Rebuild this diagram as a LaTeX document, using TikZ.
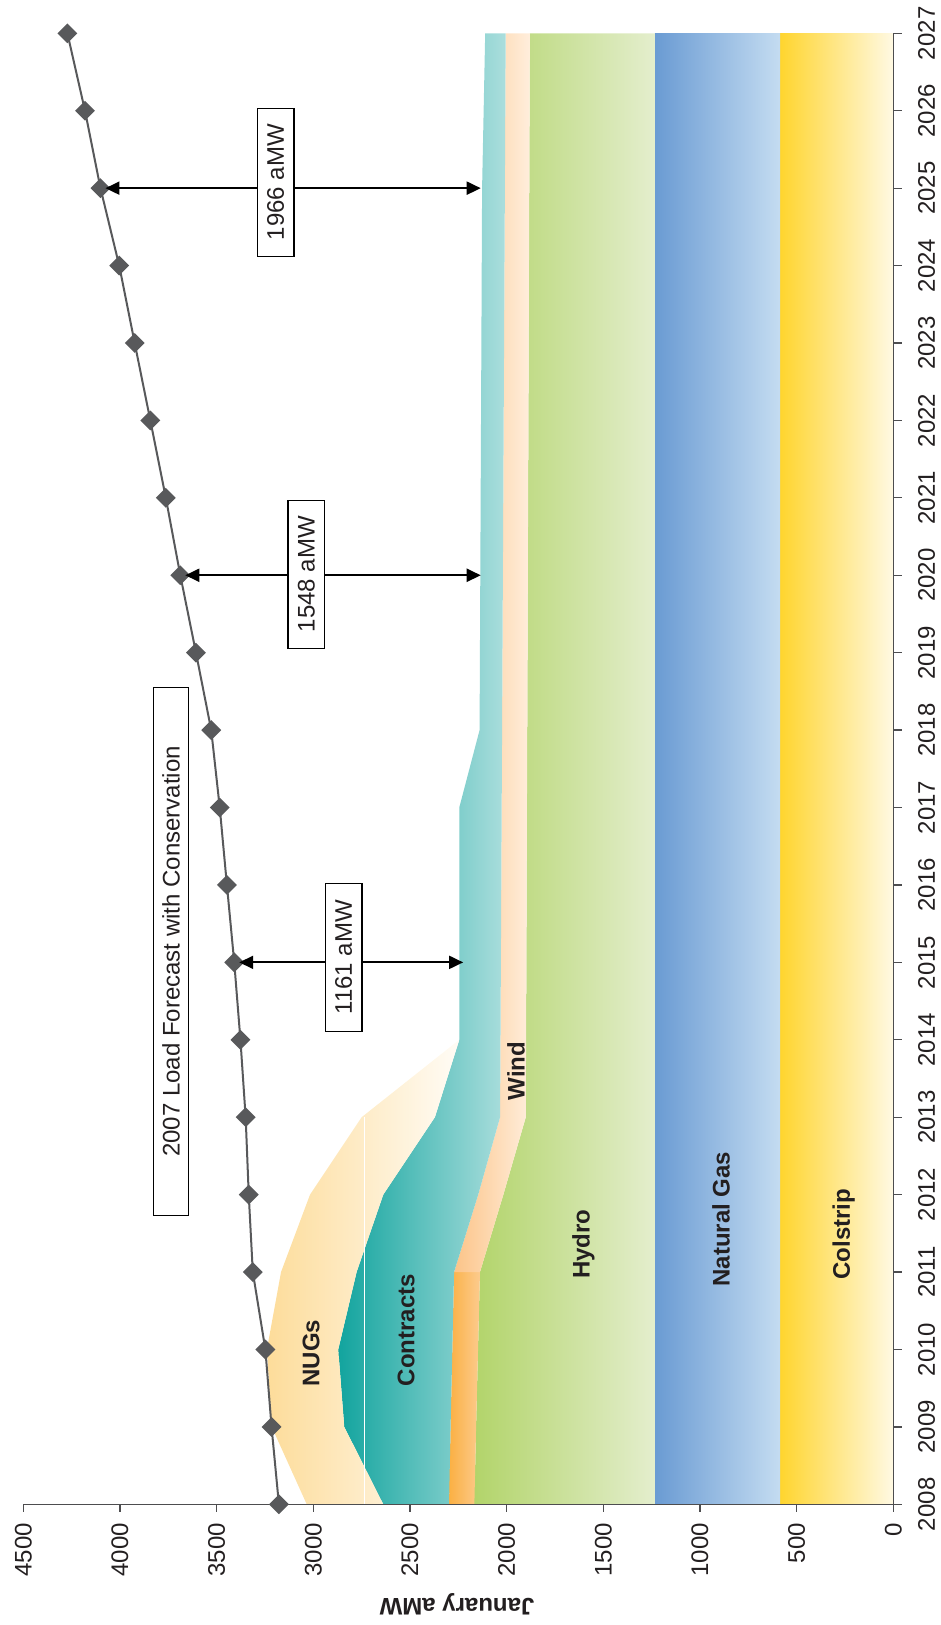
\documentclass[tikz,border=0pt]{standalone}
\usepackage{fontspec}
\setmainfont{Liberation Sans}
\usetikzlibrary{shapes.geometric,arrows.meta}

% layer shadings: saturated on the high-aMW side, pale on the low side
\definecolor{colstripL}{HTML}{FFD52E}
\definecolor{colstripR}{HTML}{FFF9E3}
\definecolor{gasL}{HTML}{6A9BD3}
\definecolor{gasR}{HTML}{C4DCF1}
\definecolor{hydroL}{HTML}{B2D46A}
\definecolor{hydroR}{HTML}{E4EECD}
\definecolor{windLoL}{HTML}{FBB043}
\definecolor{windLoR}{HTML}{FCCB8E}
\definecolor{windUpL}{HTML}{FCC488}
\definecolor{windUpR}{HTML}{FFEEDC}
\definecolor{contrL}{HTML}{12A49E}
\definecolor{contrR}{HTML}{ABDEDD}
\definecolor{nugL}{HTML}{FDDC9A}
\definecolor{nugR}{HTML}{FFFCF6}
\definecolor{loadgray}{HTML}{58595B}
\definecolor{axisgray}{HTML}{4D4D4F}
\definecolor{inkdark}{HTML}{231F20}

\begin{document}
\begin{tikzpicture}[x=1pt,y=-1pt,
  every node/.style={font=\fontsize{24pt}{28pt}\selectfont, inner sep=0pt, text=inkdark},
  layerlabel/.style={font=\fontsize{24pt}{28pt}\selectfont\bfseries, rotate=90},
  axisline/.style={draw=axisgray, line width=1.3pt},
  loadpt/.style={diamond, fill=loadgray, minimum width=20pt, minimum height=20pt, inner sep=0pt},
  loadline/.style={draw=loadgray, line width=2pt},
  gaparrow/.style={draw=black, line width=2pt,
    {Triangle[length=14pt,width=13pt]}-{Triangle[length=14pt,width=13pt]}, shorten <=5pt},
  gapbox/.style={draw=black, line width=1.3pt, fill=white, rotate=90,
    minimum width=148pt, minimum height=36.5pt},
  titlebox/.style={draw=black, line width=1.3pt, fill=white, rotate=90,
    minimum width=528pt, minimum height=35pt}]

\useasboundingbox (0,0) rectangle (941,1625);

% chart frame: first coordinate = years after 2008, second = aMW
\begin{scope}[shift={(893.3pt,-1504.3pt)}, x={(0pt,77.42pt)}, y={(-0.193333pt,0pt)}]

  % Colstrip
  \shade[left color=colstripL, right color=colstripR]
    (0,0) -- (19,0) -- (19,586) -- (0,586) -- cycle;
  % Natural Gas
  \shade[left color=gasL, right color=gasR]
    (0,586) -- (19,586) -- (19,1233) -- (0,1233) -- cycle;
  % Hydro
  \shade[left color=hydroL, right color=hydroR]
    (0,1233) -- (19,1233) -- (19,1880) -- (5,1901) -- (4,2017) -- (3,2138)
    -- (2,2148) -- (1,2158) -- (0,2167) -- cycle;
  % Wind, early years
  \shade[left color=windLoL, right color=windLoR]
    (0,2167) -- (1,2158) -- (2,2148) -- (3,2138) -- (3,2272) -- (2,2281)
    -- (1,2290) -- (0,2298) -- cycle;
  % Wind, later years
  \shade[left color=windUpL, right color=windUpR]
    (3,2138) -- (4,2017) -- (5,1901) -- (19,1880) -- (19,2005) -- (5,2034)
    -- (4,2147) -- (3,2272) -- cycle;
  % Contracts
  \shade[left color=contrL, right color=contrR]
    (0,2298) -- (1,2290) -- (2,2281) -- (3,2272) -- (4,2147) -- (5,2034)
    -- (19,2005) -- (19,2111) -- (17,2127) -- (10,2140) -- (9,2245)
    -- (6,2245) -- (5,2371) -- (4,2638) -- (3,2776) -- (2,2871)
    -- (1,2840) -- (0,2638) -- cycle;
  % NUGs
  \shade[left color=nugL, right color=nugR]
    (0,2638) -- (1,2840) -- (2,2871) -- (3,2776) -- (4,2638) -- (5,2371)
    -- (6,2245) -- (5,2750) -- (4,3017) -- (3,3167) -- (2,3240)
    -- (1,3215) -- (0,3034) -- cycle;
  % fine seam across the early stack
  \draw[white, line width=0.8pt] (0,2738) -- (5,2738);

  % axes, ticks and tick labels
  \draw[axisline] (0,4500) -- (0,0) -- (19,0);
  \foreach \v in {0,500,...,4500} {
    \draw[axisline] (0,\v) -- ++(0pt,-8pt);
    \node[anchor=east, rotate=90] at (-0.24,\v) {\v};
  }
  \foreach \t in {0,...,19} {
    \draw[axisline] (\t,0) -- ++(8.5pt,0pt);
    \pgfmathtruncatemacro{\yr}{2008+\t}
    \node[anchor=north, rotate=90] at (\t,-127.8) {\yr};
  }

  % load forecast
  \foreach \v [count=\i from 0] in {3178,3216,3248,3313,3334,3350,3377,3409,
      3447,3484,3528,3607,3688,3763,3843,3924,4004,4101,4181,4272}
    \node[loadpt] (L\i) at (\i,\v) {};
  \draw[loadline] (L0.center) \foreach \i in {1,...,19} { -- (L\i.center) };

  % resource edge at the measured years
  \coordinate (R7) at (7,2225);
  \coordinate (R12) at (12,2134);
  \coordinate (R17) at (17,2134);
\end{scope}

% gaps between load and resources
\draw[gaparrow] (L7.center) -- (R7);
\draw[gaparrow] (L12.center) -- (R12);
\draw[gaparrow] (L17.center) -- (R17);
\node[gapbox] (B1161) at (343.7,957.2) {1161 aMW};
\node[gapbox] (B1548) at (306.3,574.2) {1548 aMW};
\node[gapbox] (B1966) at (275.7,182.2) {1966 aMW};

\node[titlebox] (legend) at (171,951.5) {2007 Load Forecast with Conservation};

% layer names
\node[layerlabel] (nugs) at (311,1353) {NUGs};
\node[layerlabel] (contracts) at (406,1330) {Contracts};
\node[layerlabel] (wind) at (516,1071) {Wind};
\node[layerlabel] (hydro) at (583.5,1244) {Hydro};
\node[layerlabel] (gas) at (721,1219) {Natural Gas};
\node[layerlabel] (colstrip) at (843.6,1234) {Colstrip};

% value axis title
\node[font=\fontsize{24pt}{28pt}\selectfont\bfseries, rotate=180] (ytitle) at (457,1604) {January aMW};
\end{tikzpicture}
\end{document}
